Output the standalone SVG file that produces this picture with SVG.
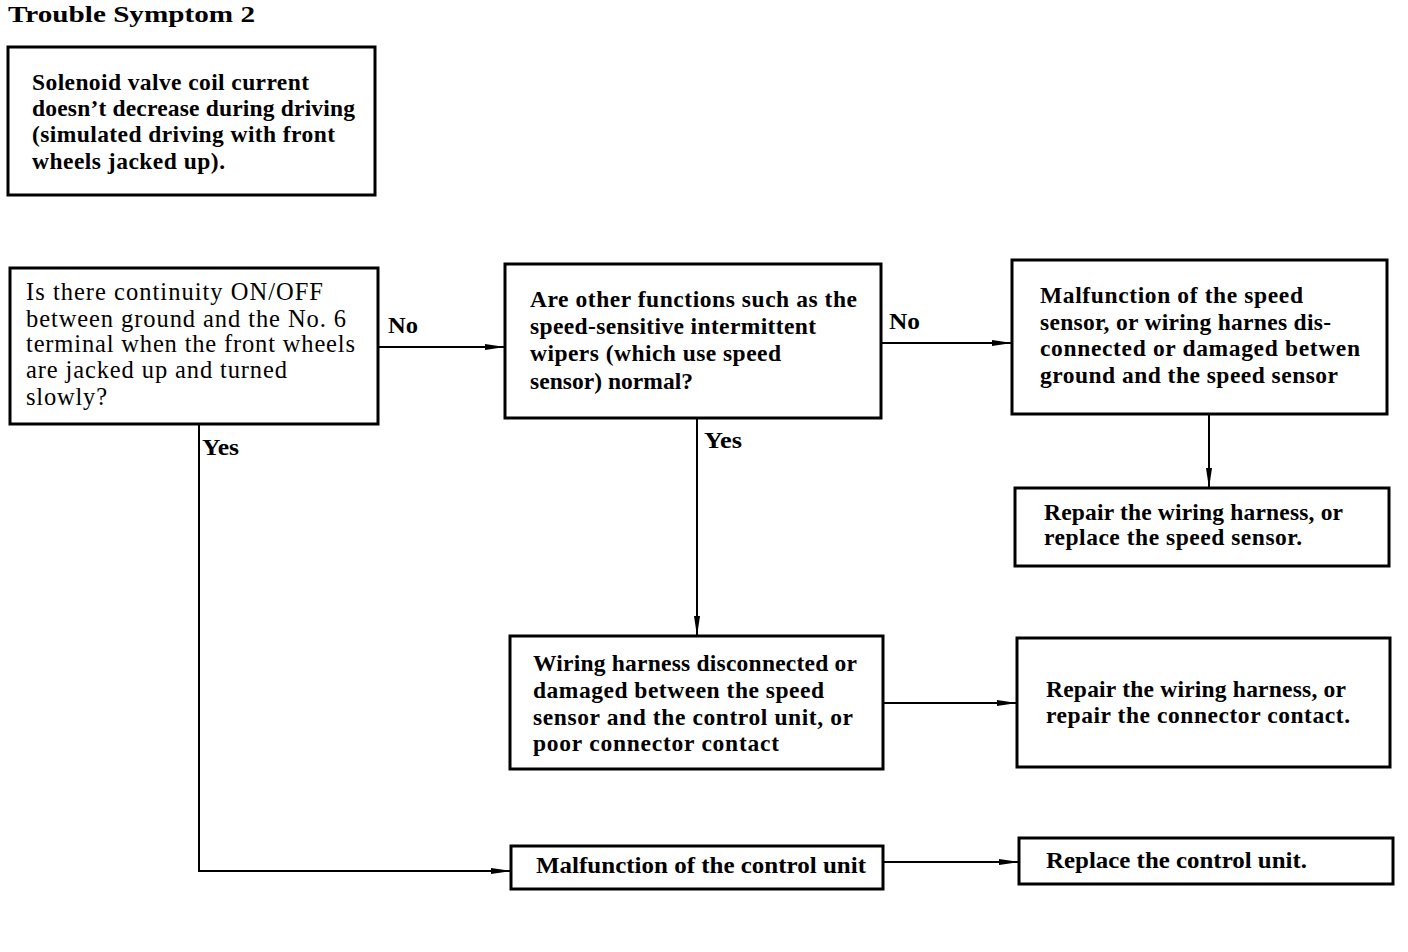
<svg xmlns="http://www.w3.org/2000/svg" width="1408" height="952" viewBox="0 0 1408 952">
<defs>
<marker id="ah" viewBox="0 0 20 10" refX="20" refY="5" markerWidth="20" markerHeight="10" markerUnits="userSpaceOnUse" orient="auto">
<path d="M0,2 L20,5 L0,8 Z" fill="#000"/>
</marker>
<style>
rect{fill:#fff;stroke:#000;stroke-width:3}
text{font-family:"Liberation Serif","Times New Roman",serif;font-size:23.5px;fill:#000;font-weight:bold}
.r{font-weight:normal;font-size:24.5px}
.c line,.c path{stroke:#000;stroke-width:2;fill:none}
</style>
</defs>
<rect x="0" y="0" width="1408" height="952" style="stroke:none"/>
<text x="8" y="22" style="font-size:24px" textLength="247" lengthAdjust="spacingAndGlyphs">Trouble Symptom 2</text>
<g id="n1"><rect x="8" y="47" width="367" height="148"/>
<text lengthAdjust="spacingAndGlyphs"><tspan x="32" y="90" textLength="277">Solenoid valve coil current</tspan><tspan x="32" y="116" textLength="323">doesn’t decrease during driving</tspan><tspan x="32" y="142" textLength="303">(simulated driving with front</tspan><tspan x="32" y="169" textLength="193">wheels jacked up).</tspan></text></g>
<g id="n2"><rect x="10" y="268" width="368" height="156"/>
<text class="r" lengthAdjust="spacingAndGlyphs"><tspan x="26" y="300" textLength="297">Is there continuity ON/OFF</tspan><tspan x="26" y="327" textLength="320">between ground and the No. 6</tspan><tspan x="26" y="352" textLength="329">terminal when the front wheels</tspan><tspan x="26" y="378" textLength="261">are jacked up and turned</tspan><tspan x="26" y="405" textLength="81">slowly?</tspan></text></g>
<g id="n3"><rect x="505" y="264" width="376" height="154"/>
<text lengthAdjust="spacingAndGlyphs"><tspan x="530" y="307" textLength="327">Are other functions such as the</tspan><tspan x="530" y="334" textLength="286">speed-sensitive intermittent</tspan><tspan x="530" y="361" textLength="251">wipers (which use speed</tspan><tspan x="530" y="389" textLength="163">sensor) normal?</tspan></text></g>
<g id="n4"><rect x="1012" y="260" width="375" height="154"/>
<text lengthAdjust="spacingAndGlyphs"><tspan x="1040" y="303" textLength="263">Malfunction of the speed</tspan><tspan x="1040" y="330" textLength="291">sensor, or wiring harnes dis-</tspan><tspan x="1040" y="356" textLength="320">connected or damaged betwen</tspan><tspan x="1040" y="383" textLength="298">ground and the speed sensor</tspan></text></g>
<g id="n5"><rect x="1015" y="488" width="374" height="78"/>
<text lengthAdjust="spacingAndGlyphs"><tspan x="1044" y="520" textLength="299">Repair the wiring harness, or</tspan><tspan x="1044" y="545" textLength="258">replace the speed sensor.</tspan></text></g>
<g id="n6"><rect x="510" y="636" width="373" height="133"/>
<text lengthAdjust="spacingAndGlyphs"><tspan x="533" y="671" textLength="324">Wiring harness disconnected or</tspan><tspan x="533" y="698" textLength="291">damaged between the speed</tspan><tspan x="533" y="725" textLength="320">sensor and the control unit, or</tspan><tspan x="533" y="751" textLength="246">poor connector contact</tspan></text></g>
<g id="n7"><rect x="1017" y="638" width="373" height="129"/>
<text lengthAdjust="spacingAndGlyphs"><tspan x="1046" y="697" textLength="300">Repair the wiring harness, or</tspan><tspan x="1046" y="723" textLength="304">repair the connector contact.</tspan></text></g>
<g id="n8"><rect x="511" y="846" width="372" height="43"/>
<text x="536" y="873" textLength="330" lengthAdjust="spacingAndGlyphs">Malfunction of the control unit</text></g>
<g id="n9"><rect x="1019" y="838" width="374" height="46"/>
<text x="1046" y="868" textLength="261" lengthAdjust="spacingAndGlyphs">Replace the control unit.</text></g>
<g class="c" id="connectors">
<line x1="378" y1="347" x2="505" y2="347" marker-end="url(#ah)"/>
<line x1="881" y1="343" x2="1012" y2="343" marker-end="url(#ah)"/>
<line x1="1209" y1="414" x2="1209" y2="488" marker-end="url(#ah)"/>
<line x1="697" y1="418" x2="697" y2="636" marker-end="url(#ah)"/>
<line x1="883" y1="703" x2="1017" y2="703" marker-end="url(#ah)"/>
<path d="M199,424 V871 H511" marker-end="url(#ah)"/>
<line x1="883" y1="862" x2="1019" y2="862" marker-end="url(#ah)"/>
</g>
<text x="388" y="333" textLength="30" lengthAdjust="spacingAndGlyphs">No</text>
<text x="889" y="329" textLength="31" lengthAdjust="spacingAndGlyphs">No</text>
<text x="202" y="455" textLength="37" lengthAdjust="spacingAndGlyphs">Yes</text>
<text x="704" y="448" textLength="38" lengthAdjust="spacingAndGlyphs">Yes</text>
</svg>
